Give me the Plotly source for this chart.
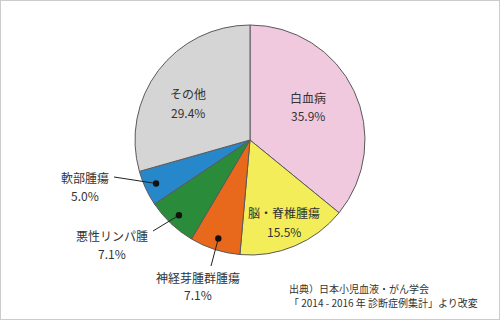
import math
import plotly.graph_objects as go

labels = ["白血病", "脳・脊椎腫瘍", "神経芽腫群腫瘍", "悪性リンパ腫", "軟部腫瘍", "その他"]
values = [35.9, 15.5, 7.1, 7.1, 5.0, 29.4]
colors = ["#f1c9df", "#f2ed58", "#e9691c", "#2a8b3b", "#2787cb", "#d5d5d5"]
source_lines = ["出典）日本小児血液・がん学会", "「 2014 - 2016 年 診断症例集計」より改変"]

W, H = 500, 320
CX, CY, R = 250, 140, 115
FONT = "Noto Sans CJK JP, Noto Sans, sans-serif"
TXT = "#333333"

fig = go.Figure(go.Pie(
    labels=labels, values=values, sort=False, direction="clockwise", rotation=0,
    marker=dict(colors=colors, line=dict(color="#5a5a5a", width=1)),
    textinfo="none", hoverinfo="label+percent", showlegend=False,
    domain=dict(x=[(CX - R) / W, (CX + R) / W], y=[1 - (CY + R) / H, 1 - (CY - R) / H]),
))

def px(x, y):
    return x / W, 1 - y / H

# label placement: (center x, name line y, percent line y, leader anchor)
label_pos = {
    "白血病": (308, 97, 115, None),
    "脳・脊椎腫瘍": (284, 212, 231, None),
    "その他": (188, 93, 112, None),
    "軟部腫瘍": (85, 177, 195, (114, 177)),
    "悪性リンパ腫": (112, 235, 253, (153, 231)),
    "神経芽腫群腫瘍": (198, 277, 294, (211, 266)),
}

total = sum(values)
cum = 0.0
annotations = []
shapes = []
for lab, v in zip(labels, values):
    mid = (cum + v / 2) / total * 2 * math.pi
    cum += v
    lx, ly1, ly2, anchor = label_pos[lab]
    for txt, ly in ((lab, ly1), (f"{v:.1f}%", ly2)):
        x, y = px(lx, ly)
        annotations.append(dict(
            x=x, y=y, xref="paper", yref="paper", showarrow=False,
            xanchor="center", yanchor="middle", text=txt,
            font=dict(family=FONT, size=12, color=TXT),
        ))
    if anchor is not None:
        dx = CX + R * 0.9 * math.sin(mid)
        dy = CY - R * 0.9 * math.cos(mid)
        x0, y0 = px(*anchor)
        x1, y1 = px(dx, dy)
        shapes.append(dict(type="line", xref="paper", yref="paper",
                           x0=x0, y0=y0, x1=x1, y1=y1,
                           line=dict(color="#222222", width=1)))
        rr = 3.2
        shapes.append(dict(type="circle", xref="paper", yref="paper",
                           x0=(dx - rr) / W, x1=(dx + rr) / W,
                           y0=1 - (dy + rr) / H, y1=1 - (dy - rr) / H,
                           fillcolor="#111111", line=dict(color="#111111", width=0)))

for i, s in enumerate(source_lines):
    annotations.append(dict(
        x=287 / W, y=1 - (288 + 14 * i) / H, xref="paper", yref="paper",
        xanchor="left", yanchor="middle", showarrow=False, text=s,
        font=dict(family=FONT, size=10, color=TXT),
    ))

shapes.append(dict(type="rect", xref="paper", yref="paper", x0=0, y0=0, x1=1, y1=1,
                   line=dict(color="#cccccc", width=2)))

fig.update_layout(
    width=W, height=H, margin=dict(l=0, r=0, t=0, b=0),
    paper_bgcolor="white", plot_bgcolor="white",
    annotations=annotations, shapes=shapes,
)
fig.write_html("out.html")
